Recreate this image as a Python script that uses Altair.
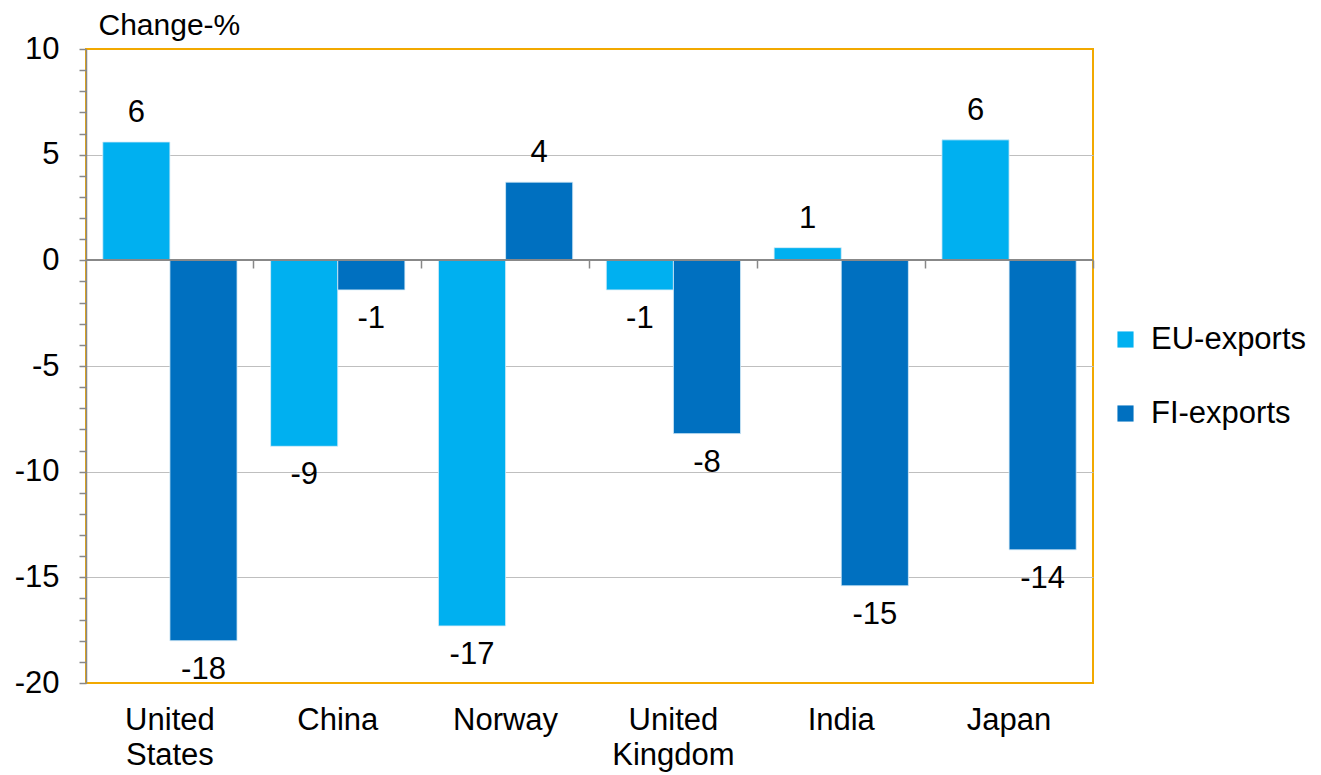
import altair as alt
import pandas as pd

countries = ["United States", "China", "Norway", "United Kingdom", "India", "Japan"]
eu_exports = [5.6, -8.8, -17.3, -1.4, 0.6, 5.7]
fi_exports = [-18.0, -1.4, 3.7, -8.2, -15.4, -13.7]
series = ["EU-exports", "FI-exports"]
colors = ["#00B0F0", "#0070C0"]
y_ticks = list(range(-20, 11))

rows = []
for c, e, f in zip(countries, eu_exports, fi_exports):
    rows.append({"Country": c, "Series": series[0], "Value": e})
    rows.append({"Country": c, "Series": series[1], "Value": f})
df = pd.DataFrame(rows)

FONT = "Liberation Sans"
FS = 31

x_scale = alt.Scale(domain=countries, paddingInner=0.2, paddingOuter=0.1)
y_scale = alt.Scale(domain=[-20, 10], nice=False, zero=False)
off_scale = alt.Scale(domain=series, paddingInner=0, paddingOuter=0)
color_scale = alt.Scale(domain=series, range=colors)

grid_test = "datum.value % 5 === 0 && datum.value !== 0 && datum.value !== 10 && datum.value !== -20"

bars = alt.Chart(df).mark_bar(stroke="#d8ecf8", strokeWidth=0.8).encode(
    x=alt.X("Country:N", scale=x_scale, sort=countries,
            axis=alt.Axis(title=None, orient="bottom", labelExpr="split(datum.label, ' ')",
                          labelFont=FONT, labelFontSize=FS, labelColor="#000000",
                          labelLineHeight=35, labelPadding=22, ticks=False, domain=False,
                          labelAngle=0)),
    xOffset=alt.XOffset("Series:N", scale=off_scale, sort=series),
    y=alt.Y("Value:Q", scale=y_scale,
            axis=alt.Axis(title="Change-%", titleAngle=0, titleAlign="left",
                          titleBaseline="middle", titleX=12, titleY=-24,
                          titleFont=FONT, titleFontSize=30, titleFontWeight="normal",
                          titleColor="#000000",
                          values=y_ticks, labelOverlap=False,
                          labelExpr="datum.value % 5 === 0 ? toString(datum.value) : ''",
                          labelFont=FONT, labelFontSize=FS, labelColor="#000000",
                          labelPadding=20, tickSize=7, tickColor="#888888", tickWidth=1.5,
                          domainColor="#888888", domainWidth=1.5,
                          grid=True, gridColor="#BFBFBF", gridWidth=1.2,
                          gridOpacity={"condition": {"test": grid_test, "value": 1}, "value": 0})),
    color=alt.Color("Series:N", scale=color_scale, sort=series,
                    legend=alt.Legend(title=None, orient="none", legendX=1024, legendY=275,
                                      symbolType="square", symbolSize=260,
                                      symbolStrokeWidth=0, labelFont=FONT,
                                      labelFontSize=FS, labelColor="#000000",
                                      rowPadding=42, labelOffset=10)),
)

zero_rule = alt.Chart(df).mark_rule(color="#888888", strokeWidth=1.5).encode(
    y=alt.datum(0, scale=y_scale, axis=None),
)

text_common = dict(font=FONT, fontSize=FS, color="#000000", align="center", baseline="middle")

pos_text = alt.Chart(df).transform_filter("datum.Value >= 0").transform_calculate(
    Label="toString(round(datum.Value))"
).mark_text(dy=-29, **text_common).encode(
    x=alt.X("Country:N", scale=x_scale, sort=countries,
            axis=alt.Axis(title=None, orient="bottom", labels=False, domain=False, ticks=True,
                          tickSize=8, tickColor="#888888", tickWidth=1.5, grid=False,
                          bandPosition=1.125, offset=-423)),
    xOffset=alt.XOffset("Series:N", scale=off_scale, sort=series),
    y=alt.Y("Value:Q", scale=y_scale, axis=None),
    text=alt.Text("Label:N"),
)
neg_text = alt.Chart(df).transform_filter("datum.Value < 0").transform_calculate(
    Label="toString(round(datum.Value))"
).mark_text(dy=29, **text_common).encode(
    x=alt.X("Country:N", scale=x_scale, sort=countries, axis=None),
    xOffset=alt.XOffset("Series:N", scale=off_scale, sort=series),
    y=alt.Y("Value:Q", scale=y_scale, axis=None),
    text=alt.Text("Label:N"),
)

chart = alt.layer(bars, zero_rule, pos_text, neg_text).resolve_axis(
    x="independent", y="independent"
).properties(
    width=1007, height=634,
    autosize=alt.AutoSizeParams(type="none"),
    padding={"left": 78, "top": 41, "right": 218, "bottom": 90},
    background="#ffffff",
).configure_view(stroke="#F2A900", strokeWidth=2)

chart.save("out.html", embed_options={"renderer": "svg", "actions": False})
